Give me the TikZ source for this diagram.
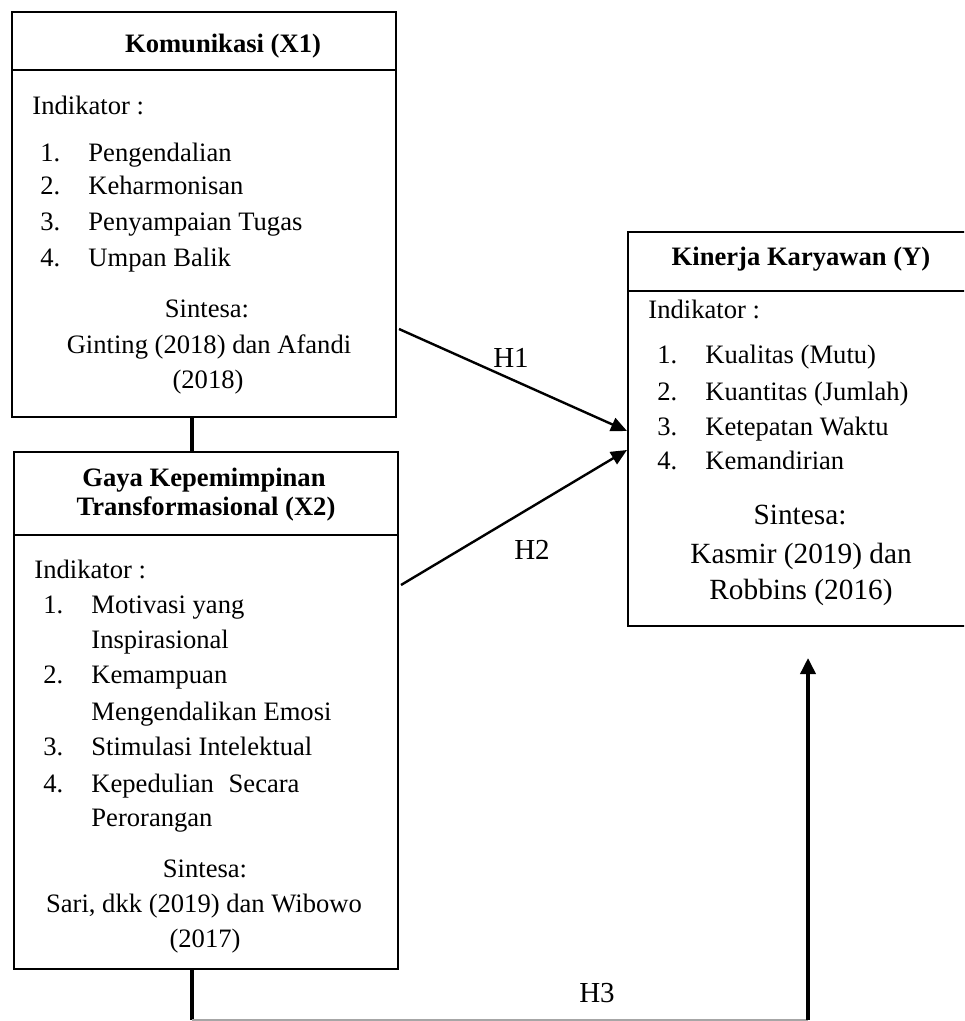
\documentclass[tikz,border=0pt]{standalone}
\usepackage{fontspec}
\setmainfont{Liberation Serif}
\usetikzlibrary{arrows.meta}
\begin{document}
\begin{tikzpicture}[x=0.5pt,y=-0.5pt,
  boxst/.style={draw=black,line width=1pt,inner sep=0pt,anchor=north west},
  txt/.style={inner sep=0pt,font=\fontsize{13.3pt}{17.5pt}\selectfont},
  ttl/.style={txt,anchor=base,font=\fontsize{13.3pt}{17.5pt}\selectfont\bfseries},
  lft/.style={txt,anchor=base west},
  ctr/.style={txt,anchor=base},
  bigc/.style={inner sep=0pt,anchor=base,font=\fontsize{14.65pt}{19pt}\selectfont},
  hlab/.style={inner sep=0pt,anchor=base,font=\fontsize{14.5pt}{18pt}\selectfont},
  divline/.style={line width=1pt},
  link/.style={line width=1.8pt},
  harrow/.style={line width=1.2pt,-{Triangle[length=8pt,width=7pt]}},
  varrow/.style={line width=1.8pt,-{Triangle[length=8pt,width=7.5pt]}},
  thinline/.style={line width=0.7pt,draw=gray!70}]
\useasboundingbox (0,0) rectangle (964,1021);
\clip (0,0) rectangle (964,1021);

% ---------- Box X1 ----------
\node[boxst,minimum width=192pt,minimum height=202.5pt] (x1) at (11,11) {};
\draw[divline] (x1.west |- 0,70) -- (x1.east |- 0,70);
\node[ttl] (x1t) at (223,53) {Komunikasi (X1)};
\node[lft] (x1i) at (32,115) {Indikator :};
\node[lft] (x1n1) at (40,162) {1.};
\node[lft] (x1a) at (88,162) {Pengendalian};
\node[lft] (x1n2) at (40,195) {2.};
\node[lft] (x1b) at (88,195) {Keharmonisan};
\node[lft] (x1n3) at (40,231) {3.};
\node[lft] (x1c) at (88,231) {Penyampaian Tugas};
\node[lft] (x1n4) at (40,267) {4.};
\node[lft] (x1d) at (88,267) {Umpan Balik};
\node[ctr] (x1s) at (207,318) {Sintesa:};
\node[ctr] (x1s1) at (209,353) {Ginting (2018) dan Afandi};
\node[ctr] (x1s2) at (208,388) {(2018)};

% ---------- Box X2 ----------
\node[boxst,minimum width=192pt,minimum height=258.5pt] (x2) at (13,451) {};
\draw[divline] (x2.west |- 0,535) -- (x2.east |- 0,535);
\node[ttl] (x2t1) at (204,486) {Gaya Kepemimpinan};
\node[ttl] (x2t2) at (206,515) {Transformasional (X2)};
\node[lft] (x2i) at (34,578) {Indikator :};
\node[lft] (x2n1) at (43,613) {1.};
\node[lft] (x2a) at (91,613) {Motivasi yang};
\node[lft] (x2a2) at (91,648) {Inspirasional};
\node[lft] (x2n2) at (43,683) {2.};
\node[lft] (x2b) at (91,683) {Kemampuan};
\node[lft] (x2b2) at (91,720) {Mengendalikan Emosi};
\node[lft] (x2n3) at (43,755) {3.};
\node[lft] (x2c) at (91,755) {Stimulasi Intelektual};
\node[lft] (x2n4) at (43,792) {4.};
\node[lft] (x2d) at (91,792) {Kepedulian\hspace{0.55em}Secara};
\node[lft] (x2d2) at (91,826) {Perorangan};
\node[ctr] (x2s) at (205,877) {Sintesa:};
\node[ctr] (x2s1) at (204,912) {Sari, dkk (2019) dan Wibowo};
\node[ctr] (x2s2) at (205,947) {(2017)};

% ---------- Box Y ----------
\node[boxst,minimum width=190pt,minimum height=197pt] (y) at (627,231) {};
\draw[divline] (y.west |- 0,291) -- (y.east |- 0,291);
\node[ttl] (yt) at (801,266) {Kinerja Karyawan (Y)};
\node[lft] (yi) at (648,319) {Indikator :};
\node[lft] (yn1) at (657,364) {1.};
\node[lft] (ya) at (705,364) {Kualitas (Mutu)};
\node[lft] (yn2) at (657,400) {2.};
\node[lft] (yb) at (705,400) {Kuantitas (Jumlah)};
\node[lft] (yn3) at (657,435) {3.};
\node[lft] (yc) at (705,435) {Ketepatan Waktu};
\node[lft] (yn4) at (657,469) {4.};
\node[lft] (yd) at (705,469) {Kemandirian};
\node[bigc] (ys) at (800,524) {Sintesa:};
\node[bigc] (ys1) at (801,563) {Kasmir (2019) dan};
\node[bigc] (ys2) at (801,599) {Robbins (2016)};

% ---------- connectors ----------
\coordinate (cx) at (192,0);
\draw[link] (x1.south -| cx) -- (x2.north -| cx);

\coordinate (h1s) at (0,329);
\coordinate (h1e) at (0,431);
\coordinate (h2s) at (0,585);
\coordinate (h2e) at (0,450);
\draw[harrow] ([xshift=1pt]x1.east |- h1s) -- (y.west |- h1e);
\draw[harrow] ([xshift=1pt]x2.east |- h2s) -- (y.west |- h2e);
\node[hlab] (lh1) at (511,367) {H1};
\node[hlab] (lh2) at (532,559) {H2};

\coordinate (h3b) at (192,1020);
\coordinate (h3c) at (808,1020);
\coordinate (h3t) at (808,658);
\draw[link] (x2.south -| cx) -- (h3b);
\draw[thinline] (h3b) -- (h3c);
\draw[varrow] (h3c) -- (h3t);
\node[hlab] (lh3) at (597,1002) {H3};
\end{tikzpicture}
\end{document}
